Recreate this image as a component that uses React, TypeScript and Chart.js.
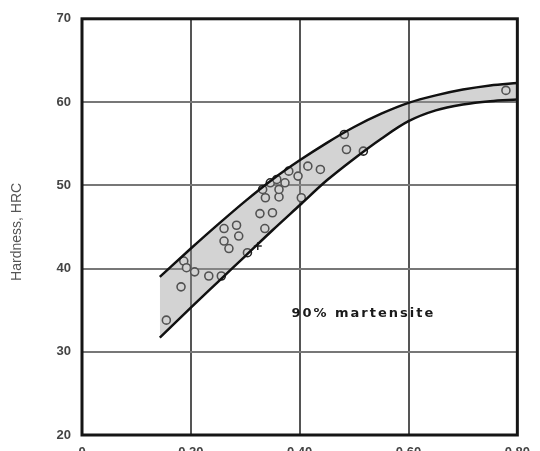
import React, { useEffect, useRef } from "react";
import { Chart, registerables } from "chart.js";

Chart.register(...registerables);

// Axis ticks
const xTickValues = [0, 0.2, 0.4, 0.6, 0.8];
const yTickValues = [20, 30, 40, 50, 60, 70];

// Upper boundary of the scatter band (carbon %, HRC)
const upperCarbon = [0.143, 0.2, 0.25, 0.3, 0.35, 0.4, 0.45, 0.5, 0.55, 0.6, 0.65, 0.7, 0.75, 0.8];
const upperHRC = [39.0, 42.4, 45.3, 48.1, 50.7, 53.0, 55.1, 57.0, 58.6, 59.9, 60.8, 61.5, 62.0, 62.3];

// Lower boundary of the scatter band
const lowerCarbon = [0.143, 0.2, 0.25, 0.3, 0.35, 0.4, 0.45, 0.5, 0.55, 0.6, 0.65, 0.7, 0.75, 0.8];
const lowerHRC = [31.7, 35.3, 38.4, 41.5, 44.6, 47.6, 50.6, 53.2, 55.6, 57.7, 59.0, 59.7, 60.1, 60.3];

// Measured points (circles)
const pointCarbon = [
  0.155, 0.182, 0.187, 0.192, 0.207, 0.233, 0.256, 0.261, 0.284, 0.261, 0.288,
  0.27, 0.304, 0.327, 0.35, 0.336, 0.337, 0.362, 0.332, 0.346, 0.362, 0.358,
  0.373, 0.38, 0.397, 0.403, 0.415, 0.438, 0.482, 0.486, 0.517, 0.779,
];
const pointHRC = [
  33.8, 37.8, 40.9, 40.1, 39.6, 39.1, 39.1, 44.8, 45.2, 43.3, 43.9,
  42.4, 41.9, 46.6, 46.7, 44.8, 48.5, 48.6, 49.5, 50.3, 49.5, 50.7,
  50.3, 51.7, 51.1, 48.5, 52.3, 51.9, 56.1, 54.3, 54.1, 61.4,
];

// Cross marks
const crossCarbon = [0.323];
const crossHRC = [42.7];

const annotationText = "90% martensite";
const annotationCarbon = 0.517;
const annotationHRC = 34.6;
const yTitle = "Hardness, HRC";

const zip = (xs: number[], ys: number[]) => xs.map((x, i) => ({ x, y: ys[i] }));

const decorPlugin = {
  id: "decor",
  afterDatasetsDraw(chart: any) {
    const { ctx, chartArea, scales } = chart;
    ctx.save();
    // frame
    ctx.strokeStyle = "#151515";
    ctx.lineWidth = 3;
    ctx.strokeRect(chartArea.left, chartArea.top, chartArea.right - chartArea.left, chartArea.bottom - chartArea.top);
    // annotation
    ctx.fillStyle = "#1a1a1a";
    ctx.font = "bold 13px 'DejaVu Sans'";
    try { (ctx as any).letterSpacing = "2px"; } catch (e) {}
    ctx.textAlign = "center";
    ctx.textBaseline = "middle";
    ctx.fillText(annotationText, scales.x.getPixelForValue(annotationCarbon), scales.y.getPixelForValue(annotationHRC));
    try { (ctx as any).letterSpacing = "0px"; } catch (e) {}
    // y title
    ctx.translate(17, (chartArea.top + chartArea.bottom) / 2 + 5);
    ctx.rotate(-Math.PI / 2);
    ctx.fillStyle = "#555";
    ctx.font = "14px 'Liberation Sans'";
    ctx.fillText(yTitle, 0, 0);
    ctx.restore();
  },
};

export default function App() {
  const ref = useRef<HTMLCanvasElement | null>(null);
  useEffect(() => {
    if (!ref.current) return;
    const chart = new Chart(ref.current, {
      type: "line",
      data: {
        datasets: [
          {
            data: zip(upperCarbon, upperHRC),
            borderColor: "#111",
            borderWidth: 2.5,
            pointRadius: 0,
            cubicInterpolationMode: "monotone",
            fill: false,
          },
          {
            data: zip(lowerCarbon, lowerHRC),
            borderColor: "#111",
            borderWidth: 2.5,
            pointRadius: 0,
            cubicInterpolationMode: "monotone",
            fill: "-1",
            backgroundColor: "rgba(150,150,150,0.42)",
          },
          {
            data: zip(pointCarbon, pointHRC),
            showLine: false,
            pointStyle: "circle",
            pointRadius: 4,
            pointBorderWidth: 1.6,
            pointBorderColor: "#222",
            pointBackgroundColor: "#fff",
          },
          {
            data: zip(crossCarbon, crossHRC),
            showLine: false,
            pointStyle: "cross",
            pointRadius: 4,
            pointBorderWidth: 1.5,
            pointBorderColor: "#222",
          },
        ],
      },
      options: {
        animation: false,
        responsive: false,
        layout: { padding: { left: 0, top: 17, right: 5, bottom: 0 } },
        plugins: { legend: { display: false }, tooltip: { enabled: false } },
        scales: {
          x: {
            type: "linear",
            min: 0,
            max: 0.8,
            afterFit: (s: any) => { s.height = 35; },
            afterBuildTicks: (s: any) => { s.ticks = xTickValues.map((v) => ({ value: v })); },
            grid: { color: "#555", lineWidth: 2, drawTicks: false },
            border: { display: false },
            ticks: {
              padding: 10,
              color: "#444",
              font: { family: "'Liberation Sans'", size: 13, weight: "bold" },
              callback: (v: any) => (Number(v) === 0 ? "0" : Number(v).toFixed(2)),
            },
          },
          y: {
            type: "linear",
            min: 20,
            max: 70,
            afterFit: (s: any) => { s.width = 82; },
            afterBuildTicks: (s: any) => { s.ticks = yTickValues.map((v) => ({ value: v })); },
            grid: { color: "#777", lineWidth: 2, drawTicks: false },
            border: { display: false },
            ticks: {
              padding: 11,
              color: "#444",
              font: { family: "'Liberation Sans'", size: 13, weight: "bold" },
              callback: (v: any) => String(v),
            },
          },
        },
      },
      plugins: [decorPlugin],
    } as any);
    return () => chart.destroy();
  }, []);
  return (
    <div style={{ position: "fixed", left: 0, top: 0, width: 540, height: 451, overflow: "hidden", background: "#fff" }}>
      <canvas ref={ref} width={540} height={470} style={{ display: "block", width: 540, height: 470 }} />
    </div>
  );
}
